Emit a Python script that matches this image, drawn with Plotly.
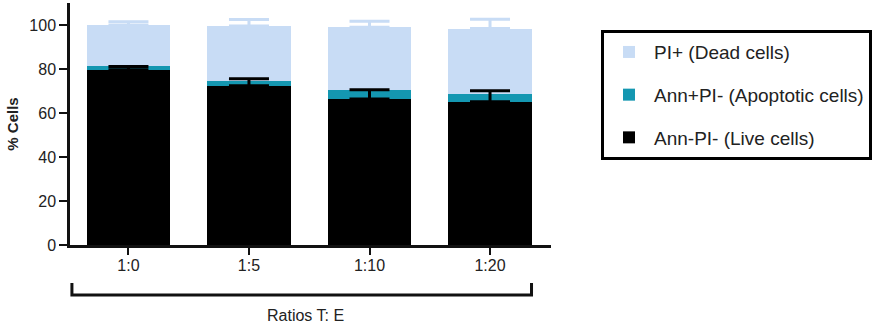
import plotly.graph_objects as go

categories = ["1:0", "1:5", "1:10", "1:20"]
live = [79.7, 72.4, 66.4, 65.1]
apoptotic = [1.8, 2.2, 3.9, 3.6]
dead = [18.4, 24.9, 28.7, 29.7]
live_err = [1.4, 3.2, 4.2, 5.0]
dead_err = [1.6, 3.0, 2.7, 4.2]
y_ticks = [0, 20, 40, 60, 80, 100]

C_DEAD = "#c8dcf5"
C_APO = "#1497b1"
C_LIVE = "#000000"

live_top = live
dead_top = [l + a + d for l, a, d in zip(live, apoptotic, dead)]

fig = go.Figure()
fig.add_trace(go.Bar(x=categories, y=live, name="Ann-PI- (Live cells)",
                     marker=dict(color=C_LIVE, line=dict(width=0)),
                     legendgroup="live", legendrank=3))
fig.add_trace(go.Bar(x=categories, y=apoptotic, name="Ann+PI- (Apoptotic cells)",
                     marker=dict(color=C_APO, line=dict(width=0)),
                     legendgroup="apo", legendrank=2))
fig.add_trace(go.Bar(x=categories, y=dead, name="PI+ (Dead cells)",
                     marker=dict(color=C_DEAD, line=dict(width=0)),
                     legendgroup="dead", legendrank=1))

# error bars (upward only) drawn over the stacked bars
fig.add_trace(go.Scatter(x=categories, y=live_top, mode="markers",
                         marker=dict(size=1, opacity=0), showlegend=False, hoverinfo="skip",
                         error_y=dict(type="data", array=live_err, arrayminus=[0]*4,
                                      symmetric=False, color=C_LIVE, thickness=3, width=20)))
fig.add_trace(go.Scatter(x=categories, y=dead_top, mode="markers",
                         marker=dict(size=1, opacity=0), showlegend=False, hoverinfo="skip",
                         error_y=dict(type="data", array=dead_err, arrayminus=[0]*4,
                                      symmetric=False, color=C_DEAD, thickness=3, width=20)))

# bracket under the categories
fig.add_shape(type="path", xref="paper", yref="paper",
              path="M 0.004,-0.157 L 0.004,-0.2066 L 0.9595,-0.2066 L 0.9595,-0.157",
              line=dict(color="#111", width=3))
fig.add_annotation(text="Ratios T: E", xref="paper", yref="paper", x=0.4886, y=-0.293,
                   showarrow=False, font=dict(size=16, color="#222"),
                   xanchor="center", yanchor="middle")

fig.update_layout(
    width=890, height=326,
    margin=dict(l=70, r=339, t=3, b=81),
    barmode="stack", bargap=0.31,
    plot_bgcolor="white", paper_bgcolor="white",
    font=dict(family="Liberation Sans, Arial, sans-serif", color="#222"),
    showlegend=True,
    legend=dict(x=1.104, y=0.888, xanchor="left", yanchor="top",
                traceorder="grouped", tracegroupgap=15,
                bordercolor="#000", borderwidth=3, bgcolor="white",
                font=dict(size=19, color="#222"), itemwidth=40),
    xaxis=dict(range=[-0.485, 3.506], showline=True, linecolor="#111", linewidth=2.5,
               ticks="outside", ticklen=7, tickwidth=2, tickcolor="#111",
               tickfont=dict(size=16), showgrid=False, zeroline=False,
               ticklabelstandoff=-3),
    yaxis=dict(range=[0, 110], tickvals=y_ticks, showline=True, linecolor="#111", linewidth=2.5,
               ticks="outside", ticklen=8, tickwidth=2, tickcolor="#111",
               tickfont=dict(size=16), showgrid=False, zeroline=False,
               title=dict(text="<b>% Cells</b>", font=dict(size=15), standoff=8)),
)

fig.write_html("out.html", config={"displayModeBar": False},
               post_script="document.body.style.margin='0';document.body.style.overflow='hidden';")
